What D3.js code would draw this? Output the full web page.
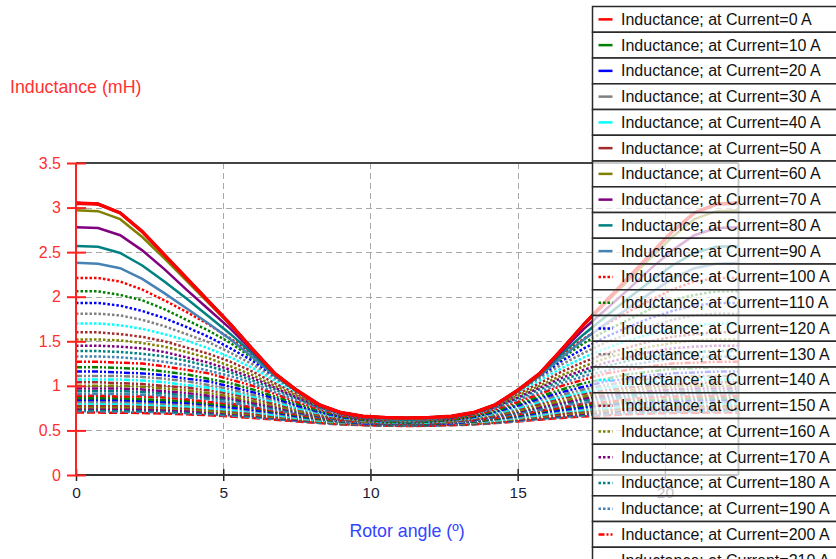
<!DOCTYPE html>
<html><head><meta charset="utf-8">
<script src="https://cdn.jsdelivr.net/npm/d3@7"></script>
<style>body{margin:0;background:#fff;} svg{display:block;font-family:Arial,"Liberation Sans",sans-serif;}</style>
</head><body><svg id="c" width="836" height="559"></svg>
<script>
const angles = [0,0.75,1.5,2.25,3,3.75,4.5,5.25,6,6.75,7.5,8.25,9,9.75,10.5,11.25,12,12.75,13.5,14.25,15,15.75,16.5,17.25,18,18.75,19.5,20.25,21,21.75,22.5];
const currents = [0,10,20,30,40,50,60,70,80,90,100,110,120,130,140,150,160,170,180,190,200,210,220,230,240,250,260,270,280,290,300,310,320,330,340,350,360,370,380,390,400];
const inductance = [
[3.05,3.04,2.94,2.73,2.47,2.21,1.95,1.69,1.41,1.14,0.95,0.79,0.70,0.66,0.645,0.64,0.645,0.66,0.70,0.79,0.95,1.14,1.41,1.69,1.95,2.21,2.47,2.73,2.94,3.04,3.05],
[3.05,3.04,2.94,2.73,2.47,2.21,1.95,1.69,1.41,1.14,0.95,0.79,0.70,0.66,0.645,0.64,0.645,0.66,0.70,0.79,0.95,1.14,1.41,1.69,1.95,2.21,2.47,2.73,2.94,3.04,3.05],
[3.05,3.04,2.94,2.73,2.47,2.21,1.95,1.69,1.41,1.14,0.95,0.79,0.70,0.66,0.645,0.64,0.645,0.66,0.70,0.79,0.95,1.14,1.41,1.69,1.95,2.21,2.47,2.73,2.94,3.04,3.05],
[3.05,3.04,2.94,2.73,2.47,2.21,1.95,1.69,1.41,1.14,0.95,0.79,0.70,0.66,0.645,0.64,0.645,0.66,0.70,0.79,0.95,1.14,1.41,1.69,1.95,2.21,2.47,2.73,2.94,3.04,3.05],
[3.05,3.04,2.94,2.73,2.47,2.21,1.95,1.69,1.41,1.14,0.95,0.79,0.70,0.66,0.645,0.64,0.645,0.66,0.70,0.79,0.95,1.14,1.41,1.69,1.95,2.21,2.47,2.73,2.94,3.04,3.05],
[3.04,3.04,2.94,2.73,2.47,2.21,1.95,1.69,1.41,1.14,0.95,0.79,0.70,0.66,0.645,0.64,0.645,0.66,0.70,0.79,0.95,1.14,1.41,1.69,1.95,2.21,2.47,2.73,2.94,3.04,3.04],
[2.97,2.96,2.87,2.67,2.43,2.18,1.93,1.68,1.41,1.13,0.94,0.79,0.70,0.66,0.64,0.63,0.64,0.66,0.70,0.79,0.94,1.13,1.41,1.68,1.93,2.18,2.43,2.67,2.87,2.96,2.97],
[2.78,2.77,2.69,2.52,2.31,2.08,1.86,1.64,1.39,1.13,0.94,0.79,0.70,0.66,0.64,0.63,0.64,0.66,0.70,0.79,0.94,1.13,1.39,1.64,1.86,2.08,2.31,2.52,2.69,2.77,2.78],
[2.57,2.56,2.49,2.35,2.17,1.98,1.78,1.58,1.36,1.12,0.94,0.79,0.70,0.66,0.64,0.62,0.64,0.66,0.70,0.79,0.94,1.12,1.36,1.58,1.78,1.98,2.17,2.35,2.49,2.56,2.57],
[2.38,2.37,2.32,2.20,2.04,1.87,1.70,1.52,1.32,1.11,0.94,0.79,0.70,0.66,0.63,0.62,0.63,0.66,0.70,0.79,0.94,1.11,1.32,1.52,1.70,1.87,2.04,2.20,2.32,2.37,2.38],
[2.21,2.21,2.17,2.08,1.96,1.83,1.69,1.53,1.35,1.13,0.94,0.78,0.69,0.65,0.64,0.62,0.64,0.65,0.69,0.78,0.94,1.13,1.35,1.53,1.69,1.83,1.96,2.08,2.17,2.21,2.21],
[2.06,2.06,2.02,1.96,1.86,1.74,1.62,1.48,1.31,1.12,0.94,0.78,0.69,0.65,0.63,0.62,0.63,0.65,0.69,0.78,0.94,1.12,1.31,1.48,1.62,1.74,1.86,1.96,2.02,2.06,2.06],
[1.93,1.93,1.90,1.84,1.76,1.66,1.55,1.42,1.28,1.11,0.94,0.78,0.69,0.65,0.63,0.62,0.63,0.65,0.69,0.78,0.94,1.11,1.28,1.42,1.55,1.66,1.76,1.84,1.90,1.93,1.93],
[1.81,1.81,1.79,1.74,1.67,1.58,1.49,1.37,1.24,1.09,0.94,0.78,0.69,0.65,0.63,0.61,0.63,0.65,0.69,0.78,0.94,1.09,1.24,1.37,1.49,1.58,1.67,1.74,1.79,1.81,1.81],
[1.70,1.70,1.68,1.64,1.58,1.51,1.42,1.32,1.20,1.06,0.93,0.78,0.69,0.65,0.63,0.61,0.63,0.65,0.69,0.78,0.93,1.06,1.20,1.32,1.42,1.51,1.58,1.64,1.68,1.70,1.70],
[1.60,1.60,1.58,1.55,1.50,1.43,1.36,1.27,1.16,1.03,0.91,0.78,0.69,0.65,0.62,0.61,0.62,0.65,0.69,0.78,0.91,1.03,1.16,1.27,1.36,1.43,1.50,1.55,1.58,1.60,1.60],
[1.52,1.52,1.51,1.48,1.44,1.38,1.31,1.22,1.12,1.00,0.89,0.78,0.69,0.65,0.62,0.61,0.62,0.65,0.69,0.78,0.89,1.00,1.12,1.22,1.31,1.38,1.44,1.48,1.51,1.52,1.52],
[1.45,1.45,1.44,1.42,1.38,1.32,1.26,1.18,1.09,0.98,0.87,0.77,0.69,0.64,0.62,0.61,0.62,0.64,0.69,0.77,0.87,0.98,1.09,1.18,1.26,1.32,1.38,1.42,1.44,1.45,1.45],
[1.39,1.39,1.38,1.36,1.33,1.28,1.22,1.15,1.06,0.96,0.86,0.76,0.69,0.64,0.61,0.60,0.61,0.64,0.69,0.76,0.86,0.96,1.06,1.15,1.22,1.28,1.33,1.36,1.38,1.39,1.39],
[1.33,1.33,1.32,1.30,1.27,1.23,1.17,1.11,1.03,0.93,0.84,0.75,0.68,0.64,0.61,0.60,0.61,0.64,0.68,0.75,0.84,0.93,1.03,1.11,1.17,1.23,1.27,1.30,1.32,1.33,1.33],
[1.27,1.27,1.26,1.25,1.22,1.18,1.14,1.07,1.00,0.91,0.82,0.74,0.67,0.63,0.61,0.60,0.61,0.63,0.67,0.74,0.82,0.91,1.00,1.07,1.14,1.18,1.22,1.25,1.26,1.27,1.27],
[1.21,1.21,1.20,1.19,1.16,1.13,1.08,1.03,0.96,0.88,0.80,0.72,0.66,0.62,0.60,0.59,0.60,0.62,0.66,0.72,0.80,0.88,0.96,1.03,1.08,1.13,1.16,1.19,1.20,1.21,1.21],
[1.16,1.16,1.15,1.14,1.12,1.08,1.05,0.99,0.93,0.86,0.78,0.71,0.65,0.62,0.60,0.59,0.60,0.62,0.65,0.71,0.78,0.86,0.93,0.99,1.05,1.08,1.12,1.14,1.15,1.16,1.16],
[1.11,1.11,1.11,1.10,1.08,1.05,1.01,0.96,0.90,0.84,0.77,0.70,0.65,0.61,0.60,0.59,0.60,0.61,0.65,0.70,0.77,0.84,0.90,0.96,1.01,1.05,1.08,1.10,1.11,1.11,1.11],
[1.07,1.07,1.07,1.06,1.04,1.01,0.98,0.93,0.88,0.82,0.75,0.69,0.64,0.61,0.59,0.59,0.59,0.61,0.64,0.69,0.75,0.82,0.88,0.93,0.98,1.01,1.04,1.06,1.07,1.07,1.07],
[1.04,1.04,1.03,1.02,1.00,0.98,0.95,0.91,0.86,0.80,0.74,0.68,0.63,0.61,0.59,0.58,0.59,0.61,0.63,0.68,0.74,0.80,0.86,0.91,0.95,0.98,1.00,1.02,1.03,1.04,1.04],
[1.00,1.00,1.00,0.99,0.97,0.95,0.92,0.88,0.83,0.78,0.72,0.67,0.63,0.60,0.59,0.58,0.59,0.60,0.63,0.67,0.72,0.78,0.83,0.88,0.92,0.95,0.97,0.99,1.00,1.00,1.00],
[0.97,0.97,0.97,0.96,0.94,0.92,0.89,0.86,0.81,0.76,0.71,0.66,0.62,0.60,0.58,0.58,0.58,0.60,0.62,0.66,0.71,0.76,0.81,0.86,0.89,0.92,0.94,0.96,0.97,0.97,0.97],
[0.94,0.94,0.94,0.93,0.92,0.89,0.87,0.84,0.80,0.75,0.70,0.65,0.62,0.60,0.58,0.58,0.58,0.60,0.62,0.65,0.70,0.75,0.80,0.84,0.87,0.89,0.92,0.93,0.94,0.94,0.94],
[0.91,0.91,0.91,0.90,0.89,0.87,0.85,0.81,0.78,0.73,0.69,0.65,0.61,0.59,0.58,0.57,0.58,0.59,0.61,0.65,0.69,0.73,0.78,0.81,0.85,0.87,0.89,0.90,0.91,0.91,0.91],
[0.89,0.89,0.88,0.88,0.87,0.85,0.82,0.80,0.76,0.72,0.68,0.64,0.61,0.59,0.58,0.57,0.58,0.59,0.61,0.64,0.68,0.72,0.76,0.80,0.82,0.85,0.87,0.88,0.88,0.89,0.89],
[0.86,0.86,0.86,0.85,0.84,0.83,0.80,0.78,0.75,0.71,0.67,0.63,0.60,0.59,0.57,0.57,0.57,0.59,0.60,0.63,0.67,0.71,0.75,0.78,0.80,0.83,0.84,0.85,0.86,0.86,0.86],
[0.84,0.84,0.84,0.83,0.82,0.81,0.79,0.76,0.73,0.70,0.66,0.63,0.60,0.58,0.57,0.57,0.57,0.58,0.60,0.63,0.66,0.70,0.73,0.76,0.79,0.81,0.82,0.83,0.84,0.84,0.84],
[0.82,0.82,0.82,0.81,0.80,0.79,0.77,0.75,0.72,0.69,0.65,0.62,0.59,0.58,0.57,0.57,0.57,0.58,0.59,0.62,0.65,0.69,0.72,0.75,0.77,0.79,0.80,0.81,0.82,0.82,0.82],
[0.80,0.80,0.80,0.79,0.78,0.77,0.75,0.73,0.71,0.67,0.64,0.61,0.59,0.58,0.57,0.56,0.57,0.58,0.59,0.61,0.64,0.67,0.71,0.73,0.75,0.77,0.78,0.79,0.80,0.80,0.80],
[0.78,0.78,0.78,0.77,0.77,0.75,0.74,0.72,0.69,0.66,0.64,0.61,0.59,0.57,0.56,0.56,0.56,0.57,0.59,0.61,0.64,0.66,0.69,0.72,0.74,0.75,0.77,0.77,0.78,0.78,0.78],
[0.76,0.76,0.76,0.76,0.75,0.74,0.72,0.70,0.68,0.65,0.63,0.60,0.58,0.57,0.56,0.56,0.56,0.57,0.58,0.60,0.63,0.65,0.68,0.70,0.72,0.74,0.75,0.76,0.76,0.76,0.76],
[0.745,0.745,0.743,0.739,0.732,0.721,0.707,0.690,0.670,0.645,0.621,0.596,0.578,0.566,0.560,0.557,0.560,0.566,0.578,0.596,0.621,0.645,0.670,0.690,0.707,0.721,0.732,0.739,0.743,0.745,0.745],
[0.729,0.729,0.727,0.724,0.717,0.706,0.694,0.679,0.659,0.637,0.614,0.592,0.574,0.564,0.558,0.555,0.558,0.564,0.574,0.592,0.614,0.637,0.659,0.679,0.694,0.706,0.717,0.724,0.727,0.729,0.729],
[0.714,0.714,0.712,0.709,0.703,0.693,0.682,0.667,0.649,0.628,0.607,0.586,0.570,0.560,0.554,0.552,0.554,0.560,0.570,0.586,0.607,0.628,0.649,0.667,0.682,0.693,0.703,0.709,0.712,0.714,0.714],
[0.700,0.700,0.699,0.696,0.690,0.681,0.670,0.657,0.640,0.621,0.601,0.582,0.567,0.558,0.552,0.550,0.552,0.558,0.567,0.582,0.601,0.621,0.640,0.657,0.670,0.681,0.690,0.696,0.699,0.700,0.700]
];
const xTicks = [0,5,10,15,20];
const yTicks = [0,0.5,1,1.5,2,2.5,3,3.5];
const palette = ["#ff0000","#008000","#0000ff","#808080","#00ffff","#a52a2a","#808000","#800080","#008080","#4682b4"];
const dashStyles = [null,"2.5,2","6,2,2,2,2,2","6,2,2,2","8,3"];

const svg = d3.select("#c");
const x = d3.scaleLinear().domain([0,22.5]).range([76,738.5]);
const y = d3.scaleLinear().domain([0,3.5]).range([475,163]);
const FONT = "Arial, 'Liberation Sans', sans-serif";

// grid
const grid = svg.append("g").attr("stroke","#a8a8a8").attr("stroke-width",1).attr("stroke-dasharray","6,4");
grid.selectAll("line.h").data(yTicks.filter(v=>v>0&&v<3.5)).join("line")
  .attr("x1",x(0)).attr("x2",x(22.5)).attr("y1",d=>Math.round(y(d))+0.5).attr("y2",d=>Math.round(y(d))+0.5);
grid.selectAll("line.v").data(xTicks.filter(v=>v>0)).join("line")
  .attr("y1",y(3.5)).attr("y2",y(0)).attr("x1",d=>Math.round(x(d))+0.5).attr("x2",d=>Math.round(x(d))+0.5);

// frame (top & right)
svg.append("line").attr("x1",x(0)).attr("x2",x(22.5)).attr("y1",y(3.5)).attr("y2",y(3.5)).attr("stroke","#444").attr("stroke-width",2);
svg.append("line").attr("x1",x(22.5)).attr("x2",x(22.5)).attr("y1",y(3.5)).attr("y2",y(0)).attr("stroke","#444").attr("stroke-width",2);

// series
const line = d3.line().x(d=>x(d[0])).y(d=>y(d[1]));
const series = currents.map((c,i)=>({c,i,pts:angles.map((a,k)=>[a,inductance[i][k]])}));
svg.append("g").selectAll("path").data(series.slice().reverse()).join("path")
  .attr("d",d=>line(d.pts)).attr("fill","none")
  .attr("stroke",d=>palette[d.i%10])
  .attr("stroke-width",d=>d.i===0?3.5:2.5)
  .attr("stroke-dasharray",d=>dashStyles[Math.floor(d.i/10)]);

// x axis
const xa = svg.append("g").attr("transform",`translate(0,${y(0)})`)
  .call(d3.axisBottom(x).tickValues(xTicks).tickSize(6).tickPadding(6).tickFormat(d3.format("d")));
xa.select(".domain").remove();
xa.selectAll(".tick line").attr("stroke","#222").attr("stroke-width",1.5);
xa.selectAll(".tick text").attr("fill","#1c1c3a").style("font-size","15.5px").style("font-family",FONT);
const xa2 = svg.append("g").attr("transform",`translate(0,${y(0)})`)
  .call(d3.axisTop(x).tickValues(xTicks).tickSize(6).tickFormat(""));
xa2.select(".domain").remove();
xa2.selectAll(".tick line").attr("stroke","#222").attr("stroke-width",1.5);
svg.append("line").attr("x1",x(0)).attr("x2",x(22.5)).attr("y1",y(0)).attr("y2",y(0)).attr("stroke","#333").attr("stroke-width",2);

// y axis
const ya = svg.append("g").attr("transform",`translate(${x(0)},0)`)
  .call(d3.axisLeft(y).tickValues(yTicks).tickSize(9).tickPadding(6).tickFormat(d3.format("~g")));
ya.select(".domain").remove();
ya.selectAll(".tick line").attr("stroke","#ff2020").attr("stroke-width",2);
ya.selectAll(".tick text").attr("fill","#ff3030").style("font-size","16px").style("font-family",FONT);
const ya2 = svg.append("g").attr("transform",`translate(${x(0)},0)`)
  .call(d3.axisRight(y).tickValues(yTicks).tickSize(10).tickFormat(""));
ya2.select(".domain").remove();
ya2.selectAll(".tick line").attr("stroke","#ff2020").attr("stroke-width",2);
svg.append("line").attr("x1",x(0)).attr("x2",x(0)).attr("y1",y(3.5)).attr("y2",y(0)).attr("stroke","#ff2020").attr("stroke-width",2);

// axis titles
svg.append("text").attr("x",10).attr("y",93).attr("fill","#ff3030").style("font-size","17.8px").text("Inductance (mH)");
svg.append("text").attr("x",407).attr("y",537).attr("text-anchor","middle").attr("fill","#3344ff").style("font-size","17.8px").text("Rotor angle (º)");

// legend
const rowH = 25.75, lx = 592.5, ly0 = 6.5;
const lg = svg.append("g");
const rows = lg.selectAll("g").data(series).join("g").attr("transform",d=>`translate(${lx},${ly0+d.i*rowH})`);
rows.append("rect").attr("width",270).attr("height",rowH).attr("fill","#fff").attr("fill-opacity",0.72).attr("stroke","#2a2a2a").attr("stroke-width",1.5);
rows.append("line").attr("x1",6).attr("x2",20).attr("y1",rowH/2).attr("y2",rowH/2)
  .attr("stroke",d=>palette[d.i%10]).attr("stroke-width",2.5)
  .attr("stroke-dasharray",d=>dashStyles[Math.floor(d.i/10)]);
rows.append("text").attr("x",28.5).attr("y",rowH/2+5.5).attr("fill","#111").style("font-size","16px")
  .text(d=>`Inductance; at Current=${d.c} A`);
</script></body></html>
